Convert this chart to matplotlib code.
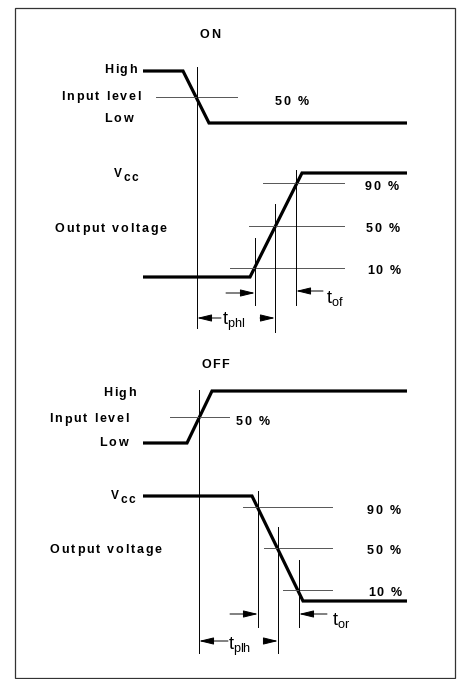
import matplotlib
matplotlib.use("Agg")
import matplotlib.pyplot as plt
from matplotlib.patches import Rectangle
from matplotlib.font_manager import FontProperties, findfont, get_font

plt.rcParams['font.family'] = ['Liberation Sans', 'DejaVu Sans']
plt.rcParams['mathtext.fontset'] = 'custom'
plt.rcParams['mathtext.rm'] = 'Liberation Sans'
plt.rcParams['mathtext.it'] = 'Liberation Sans'

# ---------------- data (diagram geometry in drawing units) ----------------
# ON panel
on_in_t = [143, 183, 209, 407]
on_in_v = [71, 71, 123, 123]
on_out_t = [143, 250, 302, 407]
on_out_v = [277, 277, 173, 173]
on_in50_y = 97
on_in50_span = [156, 237]
on_ref_levels = [183, 226, 268]          # 90 %, 50 %, 10 %
on_ref_spans = [[263, 344], [249, 344], [230, 344]]
on_ref_labels = ["90 %", "50 %", "10 %"]
on_vlines_x = [197, 255, 275, 296]
on_vlines_y = [[67, 328], [238, 305], [204, 332], [170, 305]]

# OFF panel
off_in_t = [143, 187, 212, 407]
off_in_v = [443, 443, 391, 391]
off_out_t = [143, 252, 303, 407]
off_out_v = [496, 496, 601, 601]
off_in50_y = 417
off_in50_span = [170, 229]
off_ref_levels = [507, 548, 590]
off_ref_spans = [[243, 332], [264, 332], [283, 332]]
off_ref_labels = ["90 %", "50 %", "10 %"]
off_vlines_x = [199, 258, 278, 299]
off_vlines_y = [[390, 653], [491, 627], [527, 653], [560, 627]]

# ---------------- figure ----------------
DPI = 100
fig = plt.figure(figsize=(4.6, 6.79), dpi=DPI)
ax = fig.add_axes([0, 0, 1, 1])
ax.set_xlim(0, 460)
ax.set_ylim(679, 0)
ax.axis('off')

ax.add_patch(Rectangle((15.5, 7.5), 439.5, 670, fill=False, lw=0.9, ec='#333333'))

THICK = 2.3
THIN = 0.7
FAM = 'Liberation Sans'
FS = 9.0
SP = 1.8


def advances(s, size):
    prop = FontProperties(family=FAM, weight='bold', size=size)
    font = get_font(findfont(prop))
    font.set_size(size, DPI)
    out = []
    for ch in s:
        g = font.load_char(ord(ch))
        out.append(g.linearHoriAdvance / 65536.0)
    return out


def stext(x, y, s, ha='left', size=FS, sp=SP):
    """letter-spaced bold text; y is the baseline; returns extent."""
    adv = advances(s, size)
    total = sum(adv) + sp * (len(s) - 1)
    if ha == 'right':
        x0 = x - total
    elif ha == 'center':
        x0 = x - total / 2
    else:
        x0 = x
    cx = x0
    for ch, a in zip(s, adv):
        if ch != ' ':
            ax.text(cx, y, ch, ha='left', va='baseline', fontsize=size,
                    fontweight='bold', family=FAM, color='black')
        cx += a + sp
    return x0, x0 + total


def arrow(tail, tip):
    ax.annotate('', xy=tip, xytext=tail,
                arrowprops=dict(arrowstyle='-|>,head_length=0.9,head_width=0.22',
                                lw=THIN, color='black', shrinkA=0, shrinkB=0))


def vcc(x_right, base):
    x0, _ = stext(x_right, base + 4, "cc", ha='right', size=8.6, sp=1.6)
    stext(x0 - 1.5, base, "V", ha='right', size=8.6)


def panel(title, tx, ty, in_t, in_v, out_t, out_v, in50_y, in50_span, in50_lab_x,
          ref_levels, ref_spans, ref_labels, ref_lab_x, vx, vy,
          lbl_high_y, lbl_in_y, lbl_low_y, lbl_vcc_y, lbl_out_y,
          high_right, in_right, low_right, vcc_right, out_left):
    stext(tx, ty, title, ha='center', size=9.0, sp=1.5)
    ax.plot(in_t, in_v, color='black', lw=THICK, solid_joinstyle='miter', solid_capstyle='butt')
    ax.plot(out_t, out_v, color='black', lw=THICK, solid_joinstyle='miter', solid_capstyle='butt')
    ax.plot(in50_span, [in50_y, in50_y], color='#555555', lw=THIN)
    stext(in50_lab_x, in50_y + 8, "50 %")
    for y, sp, t, lx in zip(ref_levels, ref_spans, ref_labels, ref_lab_x):
        ax.plot(sp, [y, y], color='#555555', lw=THIN)
        stext(lx, y + 6.5, t)
    for x, (y0, y1) in zip(vx, vy):
        ax.plot([x, x], [y0, y1], color='black', lw=THIN)
    stext(high_right, lbl_high_y, "High", ha='right')
    stext(in_right, lbl_in_y, "Input level", ha='right')
    stext(low_right, lbl_low_y, "Low", ha='right')
    vcc(vcc_right, lbl_vcc_y)
    stext(out_left, lbl_out_y, "Output voltage")


panel("ON", 210, 38.5, on_in_t, on_in_v, on_out_t, on_out_v, on_in50_y, on_in50_span, 275,
      on_ref_levels, on_ref_spans, on_ref_labels, [365, 366, 367], on_vlines_x, on_vlines_y,
      73, 100, 122.5, 177, 232, 137, 141, 133, 138, 55)
panel("OFF", 215, 367.5, off_in_t, off_in_v, off_out_t, off_out_v, off_in50_y, off_in50_span, 236,
      off_ref_levels, off_ref_spans, off_ref_labels, [367, 367, 368], off_vlines_x, off_vlines_y,
      396.5, 422.5, 446.5, 499, 553, 136, 129, 128, 135, 50)

# timing arrows ON
arrow((226, 293), (on_vlines_x[1], 293))
arrow((323, 291), (on_vlines_x[3], 291))
ax.text(326, 298, r"t$_{\mathrm{of}}$", ha='left', va='center', fontsize=13)
arrow((221, 318), (on_vlines_x[0], 318))
arrow((260, 318), (on_vlines_x[2], 318))
ax.text(222, 322, r"t$_{\mathrm{phl}}$", ha='left', va='center', fontsize=13)

# timing arrows OFF
arrow((230, 614), (off_vlines_x[1], 614))
arrow((327, 614), (off_vlines_x[3], 614))
ax.text(332, 620, r"t$_{\mathrm{or}}$", ha='left', va='center', fontsize=13)
arrow((228, 641), (off_vlines_x[0], 641))
arrow((264, 641), (off_vlines_x[2], 641))
ax.text(228, 647, r"t$_{\mathrm{plh}}$", ha='left', va='center', fontsize=13)

fig.savefig("out.png", dpi=DPI)
